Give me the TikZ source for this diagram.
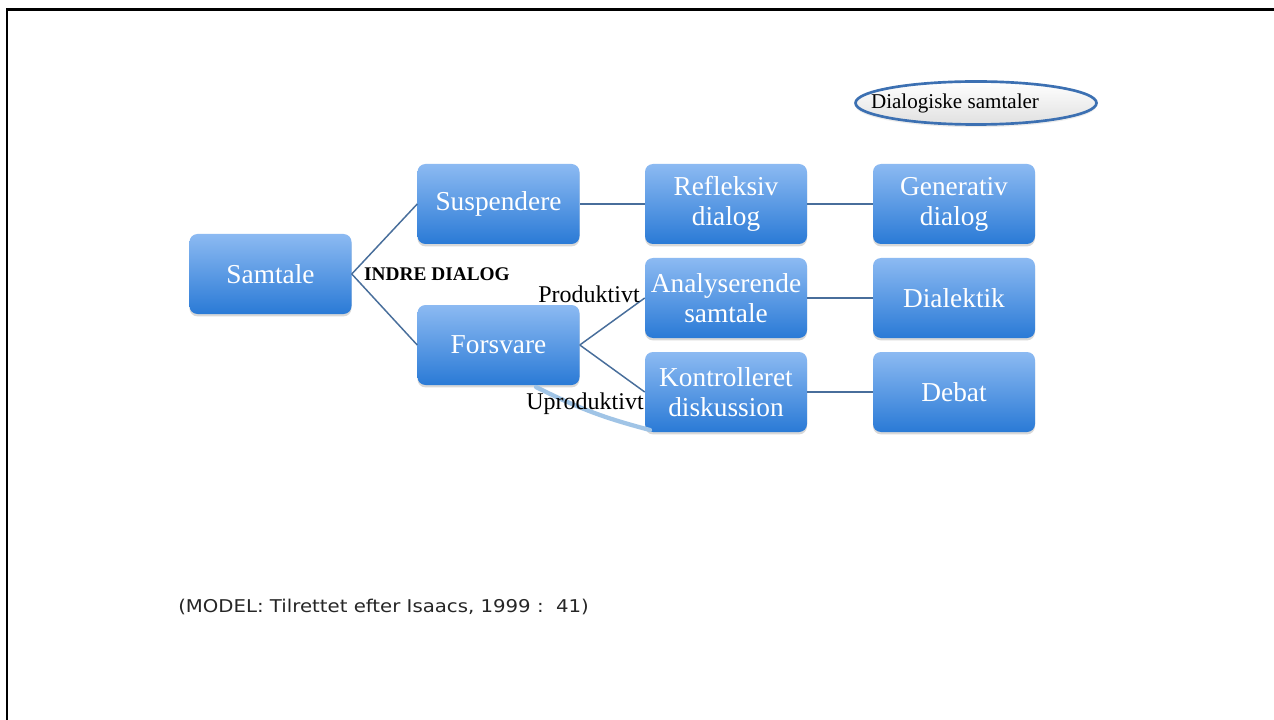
\documentclass[tikz,border=0pt]{standalone}
\usepackage{fontspec}
\setmainfont{Liberation Serif}
\newfontfamily\footfont[FakeStretch=1.12]{DejaVu Sans}
\usetikzlibrary{shapes.geometric,shadows}
\definecolor{boxtop}{RGB}{140,186,242}
\definecolor{boxbot}{RGB}{42,122,214}
\definecolor{connc}{RGB}{72,110,155}
\definecolor{ellc}{RGB}{60,112,178}
\definecolor{lightc}{RGB}{160,196,230}
\tikzset{
  box/.style={rounded corners=6pt, minimum width=121.5pt, minimum height=60pt,
    top color=boxtop, bottom color=boxbot, text=white, align=center, inner sep=0pt,
    font=\fontsize{20.5pt}{22.5pt}\selectfont,
    drop shadow={opacity=0.3, shadow xshift=0pt, shadow yshift=-1.8pt}},
  conn/.style={draw=connc, line width=1.1pt},
  lbl/.style={font=\fontsize{18pt}{20pt}\selectfont, inner sep=0pt},
}
\begin{document}
\begin{tikzpicture}[x=0.75pt,y=-0.75pt]
\useasboundingbox (0,0) rectangle (1274,720);
\fill[white] (0,0) rectangle (1274,720);
\draw[line width=2pt] (7,720) -- (7,9.5) -- (1274,9.5);

\node[box] (sam) at (270.5,274) {Samtale};
\node[box] (sus) at (498.5,204) {Suspendere};
\node[box] (fors) at (498.5,345) {Forsvare};
\node[box] (ref) at (726,204) {Refleksiv\\dialog};
\node[box] (ana) at (726,298) {Analyserende\\samtale};
\node[box] (kon) at (726,392) {Kontrolleret\\diskussion};
\node[box] (gen) at (954,204) {Generativ\\dialog};
\node[box] (dia) at (954,298) {Dialektik};
\node[box] (deb) at (954,392) {Debat};

\draw[conn] (sam.east) -- (sus.west);
\draw[conn] (sam.east) -- (fors.west);
\draw[conn] (sus.east) -- (ref.west);
\draw[conn] (ref.east) -- (gen.west);
\draw[conn] (fors.east) -- (ana.west);
\draw[conn] (fors.east) -- (kon.west);
\draw[conn] (ana.east) -- (dia.west);
\draw[conn] (kon.east) -- (deb.west);

\coordinate (u0) at (536,387);
\coordinate (u1) at (650,430);
\draw[lightc, line width=3.2pt, line cap=round] (u1) to[bend left=6] (u0);

\node[font=\bfseries\fontsize{14.5pt}{16pt}\selectfont, inner sep=0pt] (indre) at (437,274) {INDRE DIALOG};
\node[lbl] (prod) at (589,294) {Produktivt};
\node[lbl] (uprod) at (585,404) {Uproduktivt};

\node[ellipse, draw=ellc, line width=2pt, minimum width=180.75pt, minimum height=32.25pt,
  top color=white, bottom color=black!12, drop shadow={opacity=0.15, shadow xshift=0pt, shadow yshift=-2pt}] (ell) at (976,103) {};
\node[font=\fontsize{15.8pt}{18pt}\selectfont, inner sep=0pt] (elltxt) at (955,103) {Dialogiske samtaler};

\node[font=\footfont\fontsize{13.2pt}{15pt}\selectfont, anchor=west, inner sep=0pt, text=black!85] (foot) at (178,607) {(MODEL: Tilrettet efter Isaacs, 1999 :\ \ 41)};
\end{tikzpicture}
\end{document}
